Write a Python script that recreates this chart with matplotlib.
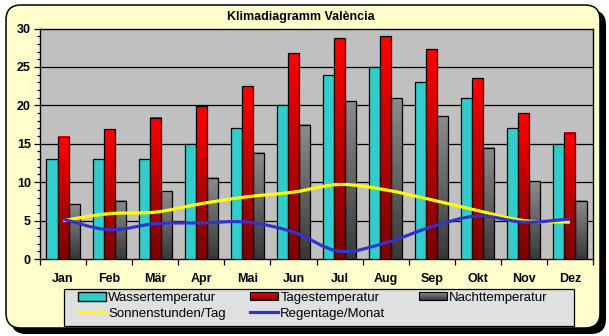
import numpy as np
import matplotlib
matplotlib.use('Agg')
import matplotlib.pyplot as plt
from matplotlib.patches import FancyBboxPatch, Rectangle, PathPatch
from matplotlib.path import Path
from matplotlib.lines import Line2D
from matplotlib.legend_handler import HandlerBase
from matplotlib.colors import LinearSegmentedColormap, to_rgb

plt.rcParams['font.family'] = ['Liberation Sans', 'DejaVu Sans']

# data
months = ['Jan', 'Feb', 'Mär', 'Apr', 'Mai', 'Jun', 'Jul', 'Aug', 'Sep', 'Okt', 'Nov', 'Dez']
wasser = [13, 13, 13, 15, 17, 20, 24, 25, 23, 21, 17, 15]
tages = [15.9, 16.9, 18.4, 19.9, 22.5, 26.8, 28.7, 29.0, 27.3, 23.5, 19.0, 16.4]
nacht = [7.1, 7.6, 8.8, 10.6, 13.8, 17.5, 20.5, 20.9, 18.6, 14.5, 10.1, 7.6]
sonne = [5.0, 5.9, 6.1, 7.2, 8.1, 8.7, 9.7, 9.0, 7.7, 6.3, 5.0, 4.8]
regen = [5.2, 3.8, 4.6, 4.7, 4.8, 3.5, 1.0, 2.1, 4.2, 5.6, 4.8, 5.2]

W, H = 609, 336
RED = ('#FF0000', '#7A0000')
GREY = ('#8C8C8C', '#383838')


def smooth_path(xs, ys):
    # bezier curve through the points, like the smoothed lines in the original
    pts = np.column_stack([xs, ys]).astype(float)
    n = len(pts)
    verts = [pts[0]]
    codes = [Path.MOVETO]
    for i in range(n - 1):
        p0 = pts[max(i - 1, 0)]
        p1 = pts[i]
        p2 = pts[i + 1]
        p3 = pts[min(i + 2, n - 1)]
        verts += [p1 + (p2 - p0) / 6, p2 - (p3 - p1) / 6, p2]
        codes += [Path.CURVE4] * 3
    return Path(verts, codes)


def grad_bar(ax, x, w, h, colors):
    cmap = LinearSegmentedColormap.from_list('g', [colors[1], colors[0]])
    grad = np.linspace(0, 1, 128).reshape(-1, 1)
    ax.imshow(grad, extent=[x - w / 2, x + w / 2, 0, h], origin='lower',
              cmap=cmap, aspect='auto', zorder=3, interpolation='bilinear')
    ax.add_patch(Rectangle((x - w / 2, 0), w, h, fill=False,
                           edgecolor='black', lw=0.9, zorder=4))


class GradHandler(HandlerBase):
    def __init__(self, colors):
        super().__init__()
        self.colors = colors

    def create_artists(self, legend, orig_handle, xdescent, ydescent,
                       width, height, fontsize, trans):
        top = np.array(to_rgb(self.colors[0]))
        bot = np.array(to_rgb(self.colors[1]))
        hh = height * 0.8
        y0 = -ydescent + (height - hh) / 2
        arts = []
        n = 8
        for k in range(n):
            t = (k + 0.5) / n
            c = bot + (top - bot) * t
            arts.append(Rectangle((-xdescent, y0 + hh * k / n), width, hh / n,
                                  facecolor=c, edgecolor='none', transform=trans))
        arts.append(Rectangle((-xdescent, y0), width, hh, fill=False,
                              edgecolor='black', lw=0.8, transform=trans))
        return arts


fig = plt.figure(figsize=(W / 100, H / 100), dpi=100)
fig.patch.set_facecolor('white')

# background frame with shadow, legend box
bg = fig.add_axes([0, 0, 1, 1])
bg.set_xlim(0, W)
bg.set_ylim(H, 0)
bg.axis('off')
bg.add_patch(FancyBboxPatch((11, 10), 595, 324, boxstyle='round,pad=0,rounding_size=15',
                            facecolor='black', edgecolor='black', lw=0))
bg.add_patch(FancyBboxPatch((6, 5), 594, 323, boxstyle='round,pad=0,rounding_size=15',
                            facecolor='#FFFFCC', edgecolor='black', lw=1.1))
bg.add_patch(Rectangle((64, 289), 510, 37, facecolor='#E0E0E0', edgecolor='black', lw=0.9))

ax = fig.add_axes([40 / W, 1 - 259 / H, 553 / W, (259 - 28.5) / H])
ax.set_facecolor('#C0C0C0')

x = np.arange(len(months))
bw = 0.24
ax.bar(x - bw, wasser, bw, color='#33CCCC', edgecolor='black', lw=0.9, zorder=3)
for i in range(len(months)):
    grad_bar(ax, x[i], bw, tages[i], RED)
    grad_bar(ax, x[i] + bw, bw, nacht[i], GREY)

ax.add_patch(PathPatch(smooth_path(x, sonne), fill=False, edgecolor='#FFFF00',
                       lw=2.3, zorder=5, capstyle='butt'))
ax.add_patch(PathPatch(smooth_path(x, regen), fill=False, edgecolor='#3333CC',
                       lw=2.3, zorder=6, capstyle='butt'))

ax.set_xlim(-0.5, 11.5)
ax.set_ylim(0, 30)
for v in range(5, 30, 5):
    ax.axhline(v, color='black', lw=0.9, zorder=1)
for s in ax.spines.values():
    s.set_color('black')
    s.set_linewidth(1.0)

ax.set_yticks(range(0, 31, 5))
ax.set_yticks(range(0, 31), minor=True)
ax.tick_params(axis='y', which='major', direction='out', length=4, width=0.9,
               pad=2.5, labelsize=9)
ax.tick_params(axis='y', which='minor', direction='out', length=2.5, width=0.9)
for lab in ax.get_yticklabels():
    lab.set_fontweight('bold')

ax.set_xticks(np.arange(-0.5, 12, 1))
ax.set_xticklabels([])
ax.set_xticks(x, minor=True)
ax.set_xticklabels(months, minor=True, fontweight='bold', fontsize=9)
ax.tick_params(axis='x', which='major', direction='out', length=4, width=0.9)
ax.tick_params(axis='x', which='minor', length=0, pad=10)

fig.text(301 / W, 1 - 17 / H, 'Klimadiagramm València', ha='center', va='center',
         fontsize=9, fontweight='bold')

h_w = Rectangle((0, 0), 1, 1, facecolor='#33CCCC', edgecolor='black')
h_t = Rectangle((0, 0), 1, 1)
h_n = Rectangle((0, 0), 1, 1)
h_s = Line2D([], [], color='#FFFF00', lw=2.3)
h_r = Line2D([], [], color='#3333CC', lw=2.3)
hmap = {h_t: GradHandler(RED), h_n: GradHandler(GREY)}

# one legend per column so each column sits where it does in the original
columns = [
    (78, [h_w, h_s], ['Wassertemperatur', 'Sonnenstunden/Tag']),
    (250, [h_t, h_r], ['Tagestemperatur', 'Regentage/Monat']),
    (419, [h_n], ['Nachttemperatur']),
]
for xpos, hs, ls in columns:
    fig.legend(hs, ls, loc='upper left', bbox_to_anchor=(xpos / W, 1 - 291.5 / H),
               fontsize=9.5, frameon=False, handlelength=2.1, handletextpad=0.2,
               labelspacing=0.3, borderpad=0, borderaxespad=0, handler_map=hmap)

fig.savefig('out.png', dpi=100)
